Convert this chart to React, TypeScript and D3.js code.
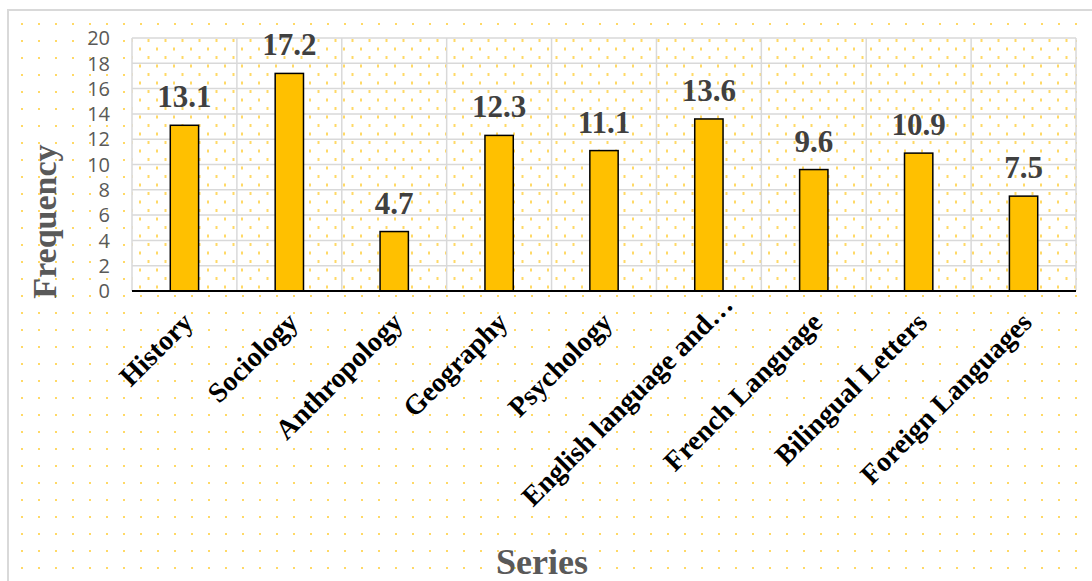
import React from 'react';
import * as d3 from 'd3';

const categories = [
  'History',
  'Sociology',
  'Anthropology',
  'Geography',
  'Psychology',
  'English language and…',
  'French Language',
  'Bilingual Letters',
  'Foreign Languages',
];
const values = [13.1, 17.2, 4.7, 12.3, 11.1, 13.6, 9.6, 10.9, 7.5];
const yTicks = [0, 2, 4, 6, 8, 10, 12, 14, 16, 18, 20];
const yTitle = 'Frequency';
const xTitle = 'Series';

const W = 1092;
const H = 581;
const plot = { left: 132, right: 1076, top: 38, bottom: 291 };
const serif = '"Liberation Serif", "Times New Roman", serif';
const sans = '"Open Sans", "Liberation Sans", sans-serif';

export default function App() {
  const x = d3.scaleBand<string>().domain(categories).range([plot.left, plot.right]).padding(0);
  const y = d3.scaleLinear().domain([0, 20]).range([plot.bottom, plot.top]);
  const bw = x.bandwidth();
  const barW = bw * 0.27;
  const boundaries = categories.map((c) => x(c) as number).concat([plot.right]);

  return (
    <svg
      width={W}
      height={H}
      style={{ position: 'absolute', left: 0, top: 0, display: 'block', background: '#fff' }}
    >
      <defs>
        <pattern id="outerDots" patternUnits="userSpaceOnUse" x={21} y={23} width={17} height={17}>
          <rect x={0} y={0} width={2} height={2} fill="#FFD966" />
        </pattern>
        <pattern id="innerDots" patternUnits="userSpaceOnUse" x={139} y={39} width={17} height={17}>
          <rect x={0} y={8.5} width={2} height={3} fill="#FFD966" />
          <rect x={8.5} y={0} width={2} height={3} fill="#FFD966" />
        </pattern>
      </defs>

      {/* chart area */}
      <rect x={0} y={0} width={W} height={H} fill="#fff" />
      <rect x={8} y={10} width={W + 20} height={H + 20} fill="url(#outerDots)" stroke="#d9d9d9" strokeWidth={2} />

      {/* plot area */}
      <rect x={plot.left} y={plot.top} width={plot.right - plot.left} height={plot.bottom - plot.top} fill="#fff" />
      <rect x={plot.left} y={plot.top} width={plot.right - plot.left} height={plot.bottom - plot.top} fill="url(#innerDots)" />

      {/* gridlines */}
      {yTicks.filter((t) => t !== 0).map((t) => (
        <line key={'h' + t} x1={plot.left} x2={plot.right} y1={y(t)} y2={y(t)} stroke="#d9d9d9" strokeWidth={1.5} />
      ))}
      {boundaries.map((bx, i) => (
        <line key={'v' + i} x1={bx} x2={bx} y1={plot.top} y2={plot.bottom} stroke="#d9d9d9" strokeWidth={1.5} />
      ))}

      {/* bars */}
      {categories.map((c, i) => {
        const cx = (x(c) as number) + bw / 2;
        return (
          <rect
            key={'b' + c}
            x={cx - barW / 2}
            y={y(values[i])}
            width={barW}
            height={y(0) - y(values[i])}
            fill="#FFC000"
            stroke="#000"
            strokeWidth={1.5}
          />
        );
      })}

      {/* axis line */}
      <line x1={plot.left} x2={plot.right} y1={y(0)} y2={y(0)} stroke="#000" strokeWidth={2.2} />

      {/* y tick labels */}
      {yTicks.map((t) => (
        <text key={'t' + t} x={110} y={y(t)} dy="0.36em" textAnchor="end" fontFamily={sans} fontSize={20} fill="#595959">
          {t}
        </text>
      ))}

      {/* data labels */}
      {categories.map((c, i) => {
        const cx = (x(c) as number) + bw / 2;
        return (
          <text
            key={'d' + c}
            x={cx}
            y={y(values[i]) - 18}
            textAnchor="middle"
            fontFamily={serif}
            fontWeight="bold"
            fontSize={31}
            fill="#404040"
          >
            {values[i].toFixed(1)}
          </text>
        );
      })}

      {/* category labels */}
      {categories.map((c) => {
        const cx = (x(c) as number) + bw / 2;
        const shift = c.endsWith('…') ? 22 : 0;
        const ax = cx + 10 + shift * 0.707;
        const ay = y(0) + 33 - shift * 0.707 - (shift ? 2 : 0);
        return (
          <text
            key={'x' + c}
            x={ax}
            y={ay}
            textAnchor="end"
            transform={`rotate(-45 ${ax} ${ay})`}
            fontFamily={serif}
            fontWeight="bold"
            fontSize={28}
            fill="#000"
          >
            {c}
          </text>
        );
      })}

      {/* axis titles */}
      <text
        x={0}
        y={0}
        transform={`translate(56 221.5) rotate(-90)`}
        textAnchor="middle"
        fontFamily={serif}
        fontWeight="bold"
        fontSize={34}
        fill="#595959"
      >
        {yTitle}
      </text>
      <text x={542} y={574} textAnchor="middle" fontFamily={serif} fontWeight="bold" fontSize={36} fill="#595959">
        {xTitle}
      </text>
    </svg>
  );
}
